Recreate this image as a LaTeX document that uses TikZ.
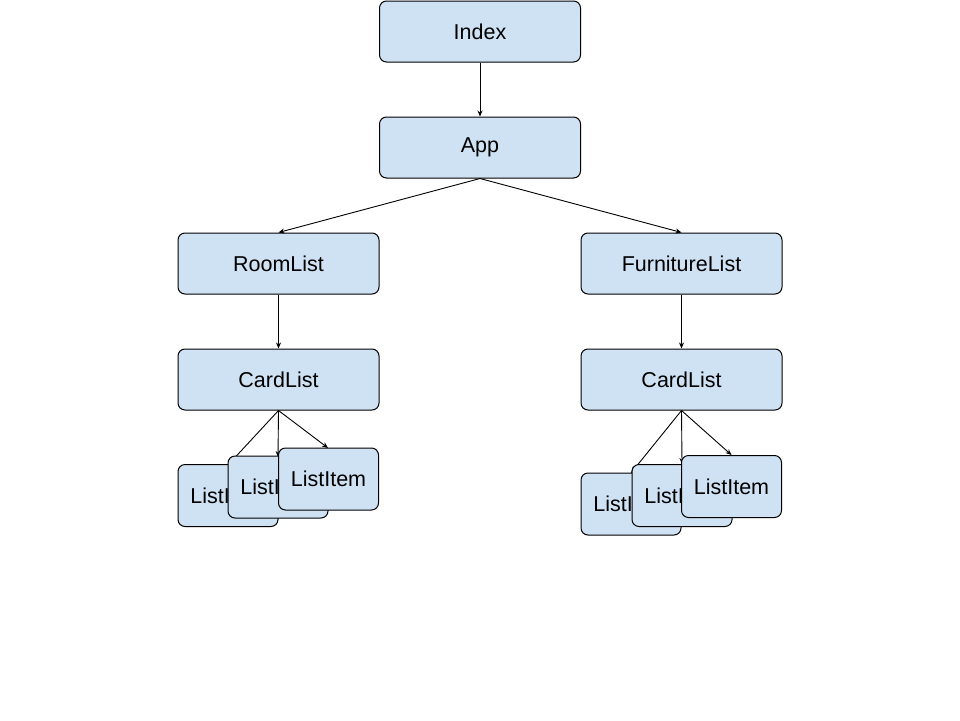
\documentclass[tikz,border=0pt]{standalone}
\usepackage{fontspec}
\setmainfont{Liberation Sans}
\usetikzlibrary{arrows.meta}
\definecolor{boxfill}{HTML}{CFE2F3}
\begin{document}
\begin{tikzpicture}[x=1pt,y=-1pt,
  box/.style={draw=black, fill=boxfill, line width=1pt, rounded corners=7pt,
    minimum width=201pt, minimum height=61pt, inner sep=0pt,
    font=\fontsize{21.5}{24}\selectfont},
  itembox/.style={box, minimum width=100pt, minimum height=62pt},
  link/.style={draw=black, line width=0.9pt, -{Stealth[length=6pt,width=5pt]}}]
\useasboundingbox (0,0) rectangle (960,720);
\fill[white] (0,0) rectangle (960,720);
% main nodes
\node[box] (index) at (480,31.5) {Index};
\node[box] (app) at (480,147.5) {App};
\node[box] (room) at (278.5,263.5) {RoomList};
\node[box] (furn) at (681.5,263.5) {FurnitureList};
\node[box] (cardL) at (278.5,379.5) {CardList};
\node[box] (cardR) at (681.5,379.5) {CardList};
% anchors for item tops (for connectors)
\coordinate (l1t) at (228,465);
\coordinate (l2t) at (278,457);
\coordinate (l3t) at (328,448);
\coordinate (r1t) at (631,473);
\coordinate (r2t) at (682,464);
\coordinate (r3t) at (731.5,455);
% connectors
\draw[link] (index.south) -- (app.north);
\draw[link] (app.south) -- (room.north);
\draw[link] (app.south) -- (furn.north);
\draw[link] (room.south) -- (cardL.north);
\draw[link] (furn.south) -- (cardR.north);
\draw[link] (cardL.south) -- (l1t);
\draw[link] (cardL.south) -- (l2t);
\draw[link] (cardL.south) -- (l3t);
\draw[link] (cardR.south) -- (r1t);
\draw[link] (cardR.south) -- (r2t);
\draw[link] (cardR.south) -- (r3t);
% list items (drawn over connectors, in stacking order)
\node[itembox] (li1) at (228,495.5) {ListItem};
\node[itembox] (li2) at (278,487) {ListItem};
\node[itembox] (li3) at (328.5,479) {ListItem};
\node[itembox] (ri1) at (631,504) {ListItem};
\node[itembox] (ri2) at (682,495.5) {ListItem};
\node[itembox] (ri3) at (731.5,486.5) {ListItem};
\end{tikzpicture}
\end{document}
